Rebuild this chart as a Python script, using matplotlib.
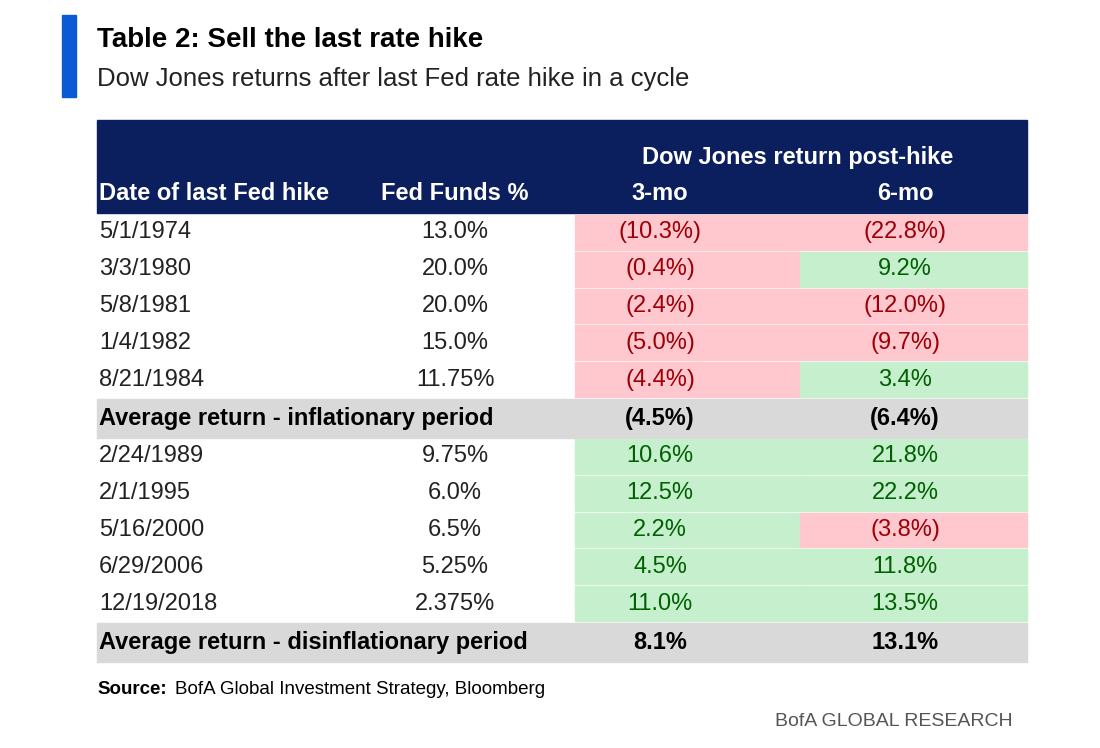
import matplotlib
matplotlib.use("Agg")
import matplotlib.pyplot as plt
from matplotlib.patches import Rectangle

plt.rcParams['font.family'] = ['Liberation Sans Narrow', 'Liberation Sans', 'DejaVu Sans']

dates1 = ["5/1/1974", "3/3/1980", "5/8/1981", "1/4/1982", "8/21/1984"]
funds1 = ["13.0%", "20.0%", "20.0%", "15.0%", "11.75%"]
ret3_1 = [-10.3, -0.4, -2.4, -5.0, -4.4]
ret6_1 = [-22.8, 9.2, -12.0, -9.7, 3.4]
avg1 = (-4.5, -6.4)
dates2 = ["2/24/1989", "2/1/1995", "5/16/2000", "6/29/2006", "12/19/2018"]
funds2 = ["9.75%", "6.0%", "6.5%", "5.25%", "2.375%"]
ret3_2 = [10.6, 12.5, 2.2, 4.5, 11.0]
ret6_2 = [21.8, 22.2, -3.8, 11.8, 13.5]
avg2 = (8.1, 13.1)

NAVY = "#0b1f5e"; RED_BG = "#ffc7ce"; RED_TX = "#9c0006"
GRN_BG = "#c6efce"; GRN_TX = "#006100"; GREY = "#d9d9d9"

def fmt(v):
    return f"({abs(v):.1f}%)" if v < 0 else f"{v:.1f}%"

fig = plt.figure(figsize=(11, 7.48), dpi=100)
ax = fig.add_axes([0, 0, 1, 1])
ax.set_xlim(0, 1100); ax.set_ylim(748, 0); ax.axis("off")

ax.add_patch(Rectangle((62, 15), 14, 82, color="#0a5ad6"))
ax.text(97, 40, "Table 2: Sell the last rate hike", fontsize=20, weight="bold", va="center", color="black")
ax.text(97, 79, "Dow Jones returns after last Fed rate hike in a cycle", fontsize=18.5, va="center", color="#222222")

L, R = 97, 1027
X_FF, X3, X6 = 455, 660, 905
C3L, C3R, C6R = 575, 800, 1027
ax.add_patch(Rectangle((L, 120), R - L, 93, color=NAVY))
hk = dict(color="white", weight="bold", fontsize=17, va="center")
ax.text(798, 157, "Dow Jones return post-hike", ha="center", **hk)
ax.text(L + 2, 193, "Date of last Fed hike", ha="left", **hk)
ax.text(X_FF, 193, "Fed Funds %", ha="center", **hk)
ax.text(X3, 193, "3-mo", ha="center", **hk)
ax.text(X6, 193, "6-mo", ha="center", **hk)

def row(y0, h, date, ff, r3, r6):
    yc = y0 + h / 2
    for v, x0, x1, xc in [(r3, C3L, C3R, X3), (r6, C3R, C6R, X6)]:
        neg = v < 0
        ax.add_patch(Rectangle((x0, y0 + 1), x1 - x0, h - 2, color=RED_BG if neg else GRN_BG))
        ax.text(xc, yc, fmt(v), ha="center", va="center", fontsize=17, color=RED_TX if neg else GRN_TX)
    ax.text(L + 2, yc, date, ha="left", va="center", fontsize=17, color="#222222")
    ax.text(X_FF, yc, ff, ha="center", va="center", fontsize=17, color="#222222")

def avg_row(y0, h, label, a):
    yc = y0 + h / 2
    ax.add_patch(Rectangle((L, y0), R - L, h, color=GREY))
    ax.text(L + 2, yc, label, ha="left", va="center", fontsize=17, weight="bold")
    ax.text(X3, yc, fmt(a[0]), ha="center", va="center", fontsize=17, weight="bold")
    ax.text(X6, yc, fmt(a[1]), ha="center", va="center", fontsize=17, weight="bold")

H = 36.8
y = 214
for d, f, a, b in zip(dates1, funds1, ret3_1, ret6_1):
    row(y, H, d, f, a, b); y += H
avg_row(y + 1, 39, "Average return - inflationary period", avg1); y += 40
for d, f, a, b in zip(dates2, funds2, ret3_2, ret6_2):
    row(y, H, d, f, a, b); y += H
avg_row(y + 1, 39, "Average return - disinflationary period", avg2)

ax.text(L, 690, "Source:", fontsize=13.5, weight="bold", va="center")
ax.text(L + 78, 690, "BofA Global Investment Strategy, Bloomberg", fontsize=13.5, va="center")
ax.text(1013, 721, "BofA GLOBAL RESEARCH", fontsize=14, va="center", ha="right", color="#555555")

fig.savefig("out.png", dpi=100)
